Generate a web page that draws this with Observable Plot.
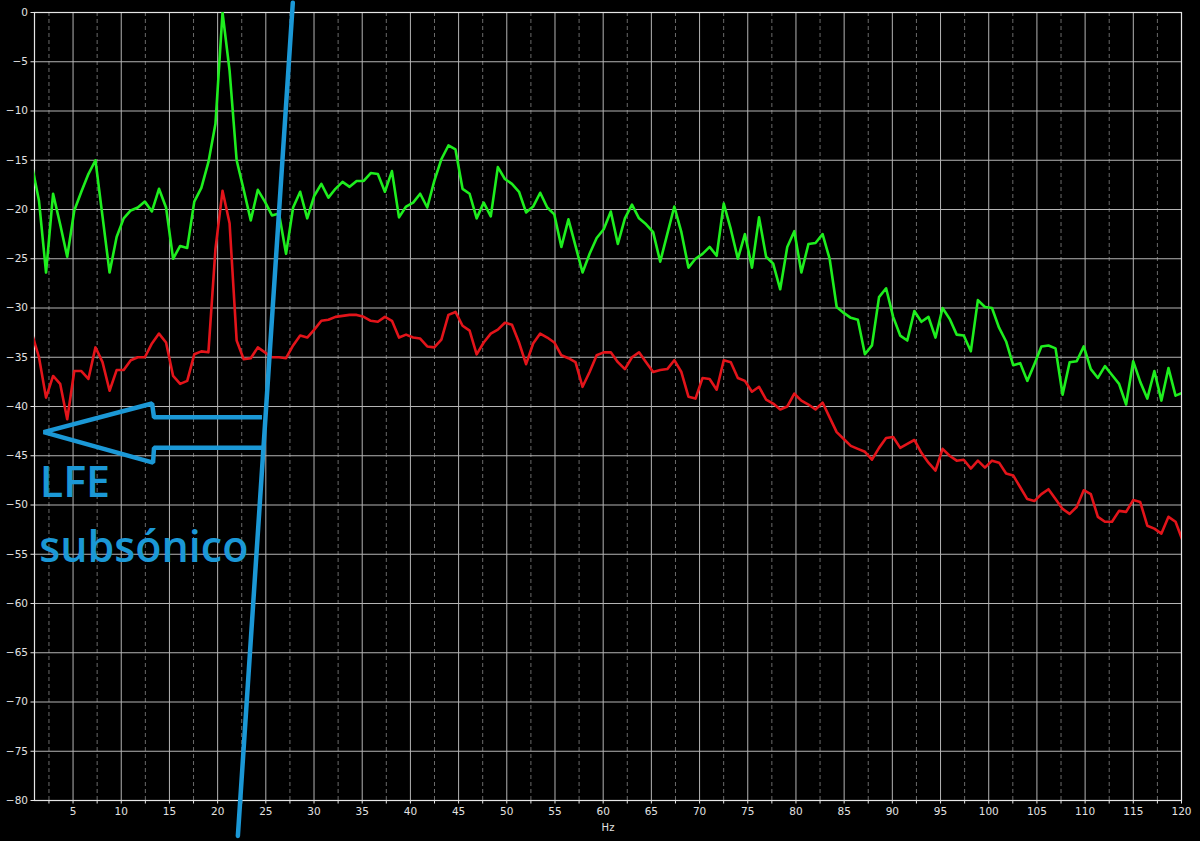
<!DOCTYPE html>
<html>
<head>
<meta charset="utf-8">
<script src="https://cdn.jsdelivr.net/npm/d3@7"></script>
<script src="https://cdn.jsdelivr.net/npm/@observablehq/plot@0.6"></script>
<style>
  html, body { margin: 0; padding: 0; background: #000; }
  #chart { width: 1200px; height: 841px; }
</style>
</head>
<body>
<div id="chart"></div>
<script>
// FFT bin width (Hz) of the spectrum: 48000 / 65536
const binHz = 0.7324;

// Upper trace (green), dB per bin k = 1..164
const greenDb = [
  -15.5,-19.1,-26.4,-18.4,-21.5,-24.8,-20.1,-18.2,-16.4,-15.0,
  -20.7,-26.4,-22.8,-20.9,-20.1,-19.8,-19.2,-20.2,-17.9,-19.8,
  -25.0,-23.7,-23.9,-19.2,-17.8,-15.2,-11.3,0.0,-5.9,-15.0,
  -18.0,-21.1,-18.0,-19.2,-20.6,-20.4,-24.5,-19.8,-18.2,-20.9,
  -18.6,-17.4,-18.8,-17.9,-17.2,-17.7,-17.1,-17.1,-16.3,-16.4,
  -18.2,-16.1,-20.8,-19.7,-19.3,-18.4,-19.8,-17.1,-14.9,-13.5,
  -13.9,-17.9,-18.4,-20.9,-19.3,-20.7,-15.7,-16.9,-17.4,-18.2,
  -20.3,-19.7,-18.3,-19.8,-20.5,-23.8,-21.0,-23.7,-26.4,-24.5,
  -22.9,-22.0,-20.2,-23.5,-20.9,-19.5,-20.9,-21.5,-22.3,-25.3,
  -22.5,-19.7,-22.3,-25.9,-25.0,-24.5,-23.8,-24.7,-19.4,-22.0,
  -25.0,-22.5,-25.9,-20.8,-24.8,-25.5,-28.1,-23.8,-22.2,-26.4,
  -23.5,-23.4,-22.5,-25.0,-29.9,-30.5,-31.0,-31.2,-34.7,-33.8,
  -28.9,-28.0,-30.9,-32.8,-33.3,-30.3,-31.4,-30.9,-33.0,-30.0,
  -31.1,-32.7,-32.8,-34.4,-29.2,-29.9,-30.0,-32.0,-33.4,-35.8,
  -35.6,-37.4,-35.7,-33.9,-33.8,-34.1,-38.8,-35.5,-35.4,-33.9,
  -36.2,-37.1,-35.9,-36.8,-37.7,-39.8,-35.4,-37.5,-39.2,-36.4,
  -39.4,-36.1,-38.9,-38.6
];

// Lower trace (red), dB per bin k = 1..164
const redDb = [
  -32.6,-35.0,-39.1,-36.9,-37.7,-41.3,-36.4,-36.4,-37.2,-34.0,
  -35.5,-38.4,-36.3,-36.3,-35.3,-35.0,-35.0,-33.6,-32.6,-33.5,
  -36.9,-37.7,-37.4,-34.7,-34.4,-34.5,-24.0,-18.1,-21.4,-33.3,
  -35.2,-35.1,-34.0,-34.5,-35.0,-35.0,-35.1,-33.8,-32.8,-33.0,
  -32.2,-31.3,-31.2,-30.9,-30.8,-30.7,-30.7,-30.9,-31.3,-31.4,
  -30.9,-31.3,-33.0,-32.7,-33.0,-33.1,-33.9,-34.0,-33.2,-30.7,
  -30.4,-31.8,-32.3,-34.7,-33.5,-32.6,-32.2,-31.5,-31.7,-33.5,
  -35.7,-33.6,-32.6,-33.0,-33.5,-34.8,-35.1,-35.5,-38.0,-36.5,
  -34.8,-34.5,-34.5,-35.5,-36.2,-35.0,-34.5,-35.5,-36.5,-36.3,
  -36.2,-35.3,-36.5,-39.0,-39.2,-37.1,-37.2,-38.3,-35.3,-35.5,
  -37.1,-37.4,-38.5,-38.0,-39.3,-39.7,-40.3,-40.0,-38.7,-39.4,
  -39.8,-40.3,-39.6,-41.1,-42.6,-43.3,-44.0,-44.3,-44.6,-45.4,
  -44.2,-43.2,-43.1,-44.2,-43.8,-43.4,-44.7,-45.7,-46.5,-44.3,
  -45.0,-45.5,-45.4,-46.3,-45.5,-46.2,-45.5,-45.7,-46.8,-47.0,
  -48.2,-49.4,-49.6,-48.9,-48.4,-49.4,-50.4,-50.9,-50.2,-48.5,
  -48.9,-51.2,-51.7,-51.7,-50.6,-50.7,-49.5,-49.7,-52.1,-52.4,
  -52.9,-51.2,-51.7,-53.6
];

// Axis ticks
const xMajorTicks = [5,10,15,20,25,30,35,40,45,50,55,60,65,70,75,80,85,90,95,100,105,110,115,120];
const xMinorTicks = [2.5,7.5,12.5,17.5,22.5,27.5,32.5,37.5,42.5,47.5,52.5,57.5,62.5,67.5,72.5,77.5,82.5,87.5,92.5,97.5,102.5,107.5,112.5,117.5];
const yTicks = [0,-5,-10,-15,-20,-25,-30,-35,-40,-45,-50,-55,-60,-65,-70,-75,-80];

// Hand-drawn annotation (in Hz / dB units)
const slashHz = [22.1, 27.8];
const slashDb = [-83.6, 1.0];
const arrowHz = [24.6, 13.4, 13.2, 1.95, 13.3, 13.4, 24.6];
const arrowDb = [-41.1, -41.1, -39.7, -42.6, -45.7, -44.2, -44.2];
const noteLines = ["LFE", "subsónico"];
const noteHz = [1.55, 1.5];
const noteDb = [-49.2, -55.8];

const green = greenDb.map((v, i) => ({hz: (i + 1) * binHz, db: v}));
const red = redDb.map((v, i) => ({hz: (i + 1) * binHz, db: v}));
const slash = slashHz.map((h, i) => ({hz: h, db: slashDb[i]}));
const arrow = arrowHz.map((h, i) => ({hz: h, db: arrowDb[i]}));
const notes = noteLines.map((t, i) => ({t, hz: noteHz[i], db: noteDb[i]}));

const blue = "#1b98d6";

const chart = Plot.plot({
  width: 1200,
  height: 841,
  marginLeft: 34,
  marginRight: 19,
  marginTop: 12,
  marginBottom: 41,
  style: {background: "#000", color: "#e2e2e2", fontFamily: "'DejaVu Sans', sans-serif", fontSize: "10.5px"},
  x: {domain: [1, 120]},
  y: {domain: [-80, 0]},
  marks: [
    Plot.ruleX(xMinorTicks, {stroke: "#6a6a6a", strokeDasharray: "4,3", strokeWidth: 1}),
    Plot.ruleX(xMajorTicks, {stroke: "#b4b4b4", strokeWidth: 1}),
    Plot.ruleY(yTicks, {stroke: "#b4b4b4", strokeWidth: 1}),
    Plot.frame({stroke: "#e6e6e6", strokeWidth: 1.2}),
    Plot.axisX(xMajorTicks, {tickSize: 3.5, tickPadding: 4, label: null, stroke: "#e6e6e6"}),
    Plot.axisX(xMinorTicks, {tickSize: 3.5, tickFormat: () => "", label: null, stroke: "#e6e6e6"}),
    Plot.axisY(yTicks, {tickSize: 3.5, tickPadding: 3, label: null, stroke: "#e6e6e6"}),
    Plot.text(["Hz"], {frameAnchor: "bottom", dy: 30, fill: "#e2e2e2", fontSize: 10}),
    Plot.line(green, {x: "hz", y: "db", stroke: "#1eee1e", strokeWidth: 2.6, clip: true}),
    Plot.line(red, {x: "hz", y: "db", stroke: "#e3141a", strokeWidth: 2.6, clip: true}),
    Plot.line(arrow, {x: "hz", y: "db", stroke: blue, strokeWidth: 4.5, strokeLinejoin: "miter", strokeLinecap: "butt"}),
    Plot.line(slash, {x: "hz", y: "db", stroke: blue, strokeWidth: 4.5, strokeLinecap: "round"}),
    Plot.text(notes, {x: "hz", y: "db", text: "t", fill: blue, textAnchor: "start", lineAnchor: "bottom",
      fontFamily: "'Open Sans', sans-serif", fontWeight: 600, fontSize: 43})
  ]
});

document.getElementById("chart").appendChild(chart);
</script>
</body>
</html>
